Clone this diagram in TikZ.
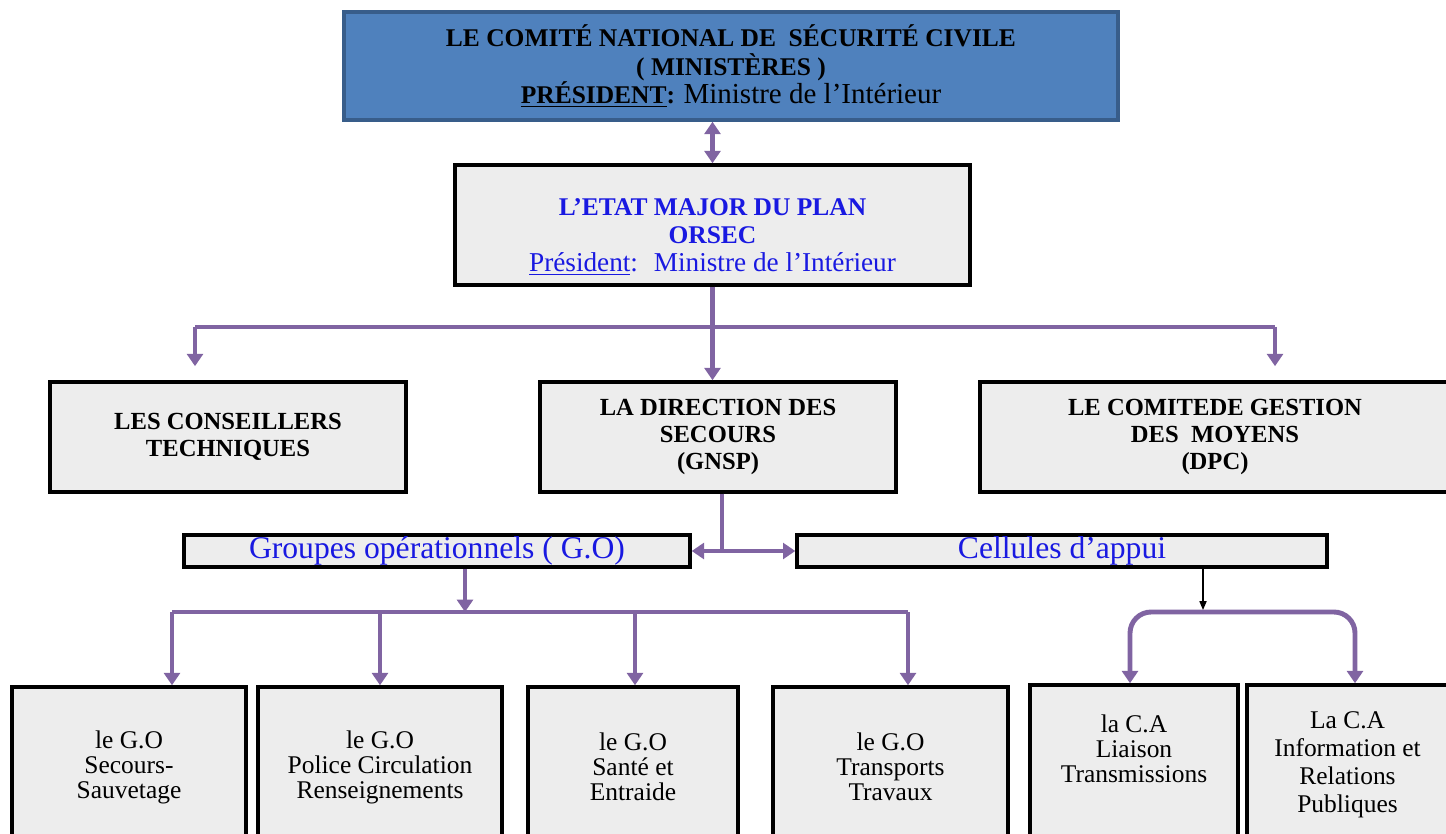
\documentclass[tikz,border=0pt]{standalone}
\usepackage{fontspec}
\setmainfont{Liberation Serif}
\usetikzlibrary{arrows.meta}
\definecolor{topblue}{RGB}{79,129,189}
\definecolor{topedge}{RGB}{56,93,138}
\definecolor{boxgray}{RGB}{237,237,237}
\definecolor{linkpurple}{RGB}{128,100,162}
\definecolor{textblue}{RGB}{25,25,225}

\begin{document}
\begin{tikzpicture}[x=0.02cm, y=-0.02cm,
  box/.style={draw, line width=2pt, fill=boxgray, align=center, inner sep=0pt},
  head/.style={font=\fontsize{14}{15.5}\selectfont\bfseries},
  body/.style={font=\fontsize{14.5}{14.2}\selectfont},
  link/.style={draw=linkpurple, line width=2.8pt},
  arr/.style={link, -{Triangle[width=9pt,length=7pt]}},
  dblarr/.style={link, {Triangle[width=9pt,length=7pt]}-{Triangle[width=9pt,length=7pt]}}]
\useasboundingbox (0,0) rectangle (1446,834);
\clip (0,0) rectangle (1446,834);

% Organigramme ORSEC
\node[box, fill=topblue, draw=topedge, minimum width=15.48cm, minimum height=2.16cm, font=\fontsize{14.5}{16}\selectfont\bfseries] (cnsc) at (731,66)
  {LE COMITÉ NATIONAL DE \ SÉCURITÉ CIVILE\\( MINISTÈRES )\\\underline{PRÉSIDENT}: {\mdseries\fontsize{16.5}{16}\selectfont Ministre de l’Intérieur}};
\node[box, minimum width=10.3cm, minimum height=2.4cm, font=\fontsize{14.5}{16}\selectfont\bfseries, text=textblue] (etat) at (712.5,225)
  {\mbox{}\\[7pt]L’ETAT MAJOR DU PLAN\\ORSEC\\{\mdseries\fontsize{15.5}{17}\selectfont\underline{Président}: \ Ministre de l’Intérieur}};

\node[box, head, minimum width=7.12cm, minimum height=2.2cm] (cons) at (228,437) {LES CONSEILLERS\\TECHNIQUES};
\node[box, head, minimum width=7.12cm, minimum height=2.2cm] (dir) at (718,437) {LA DIRECTION DES\\SECOURS\\(GNSP)};
\node[box, head, minimum width=9.4cm, minimum height=2.2cm] (cgm) at (1215,437) {LE COMITEDE GESTION\\DES \ MOYENS\\(DPC)};

\node[box, minimum width=10.12cm, minimum height=0.64cm, font=\fontsize{18}{18}\selectfont, text=textblue] (go) at (437,551) {Groupes opérationnels ( G.O)};
\node[box, minimum width=10.6cm, minimum height=0.64cm, font=\fontsize{18}{18}\selectfont, text=textblue] (ca) at (1062,551) {Cellules d’appui};

\node[box, body, minimum width=4.68cm, minimum height=3.2cm] (b1) at (129,767) {le G.O\\Secours-\\Sauvetage};
\node[box, body, minimum width=4.88cm, minimum height=3.2cm] (b2) at (380,767) {le G.O\\Police Circulation\\Renseignements};
\node[box, body, minimum width=4.2cm, minimum height=3.2cm] (b3) at (633,767) {le G.O\\Santé et\\Entraide};
\node[box, body, minimum width=4.7cm, minimum height=3.2cm] (b4) at (890.5,767) {le G.O\\Transports\\Travaux};
\node[box, body, minimum width=4.16cm, minimum height=3.2cm] (b5) at (1134,765) {la C.A\\Liaison\\Transmissions\\[4pt]\mbox{}};
\node[box, body, font=\fontsize{14.5}{15.9}\selectfont, minimum width=4.02cm, minimum height=3.2cm] (b6) at (1347.5,765) {La C.A\\Information et\\Relations\\Publiques};

% liaisons
\coordinate (j1) at (712.5,327);
\coordinate (jl) at (195,327);
\coordinate (jr) at (1275,327);
\coordinate (g1) at (465,612);
\coordinate (a1) at (172,612);
\coordinate (a2) at (380,612);
\coordinate (a3) at (635,612);
\coordinate (a4) at (908,612);
\coordinate (k1) at (1203,610);
\coordinate (c5) at (1130,612);
\coordinate (c6) at (1355,612);

\draw[dblarr] (etat.north |- cnsc.south) -- (etat.north);
\draw[link] (etat.south) -- (j1);
\draw[link] (jl) -- (jr);
\draw[arr] (jl) -- ([yshift=8pt]jl |- cons.north);
\draw[arr] (j1) -- (j1 |- dir.north);
\draw[arr] (jr) -- ([yshift=8pt]jr |- cgm.north);

\draw[link] (dir.south -| 722,0) -- (go.east -| 722,0);
\draw[dblarr] (go.east) -- (ca.west);

\draw[arr] (go.south -| g1) -- (g1);
\draw[link] (a1) -- (a4);
\draw[arr] (a1) -- (a1 |- b1.north);
\draw[arr] (a2) -- (a2 |- b2.north);
\draw[arr] (a3) -- (a3 |- b3.north);
\draw[arr] (a4) -- (a4 |- b4.north);

\draw[line width=0.8pt, -{Triangle[width=4pt,length=5pt]}] (ca.south -| k1) -- (k1);
\draw[dblarr, rounded corners=12pt] (c5 |- b5.north) -- (c5) -- (c6) -- (c6 |- b6.north);
\end{tikzpicture}
\end{document}
